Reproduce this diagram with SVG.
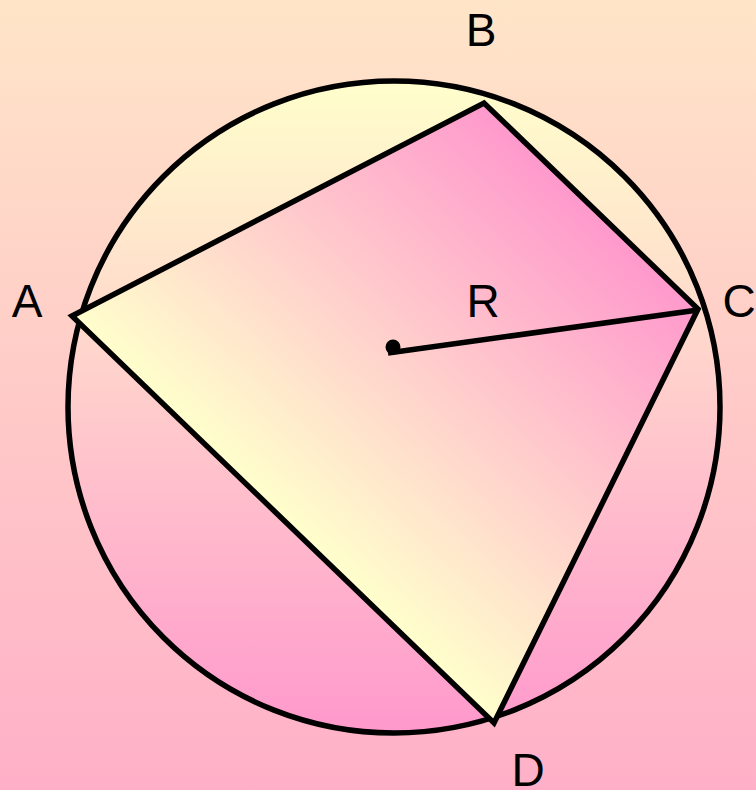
<svg xmlns="http://www.w3.org/2000/svg" width="756" height="790" viewBox="0 0 756 790">
  <defs>
    <linearGradient id="bg" x1="0" y1="0" x2="0" y2="1">
      <stop offset="0" stop-color="#ffe5c8"/>
      <stop offset="1" stop-color="#ffb0c8"/>
    </linearGradient>
    <linearGradient id="circFill" x1="0" y1="0" x2="0" y2="1">
      <stop offset="0" stop-color="#ffffcc"/>
      <stop offset="1" stop-color="#ff99cc"/>
    </linearGradient>
    <linearGradient id="quadFill" gradientUnits="userSpaceOnUse" x1="283" y1="520" x2="588" y2="203">
      <stop offset="0" stop-color="#ffffcc"/>
      <stop offset="1" stop-color="#ff99cc"/>
    </linearGradient>
  </defs>
  <style>
    .edge { stroke: #000; stroke-width: 5.5; }
    .lbl { font-family: "Liberation Sans", Arial, sans-serif; font-size: 46px; fill: #000; }
  </style>
  <rect id="background" x="0" y="0" width="756" height="790" fill="url(#bg)"/>
  <g id="circle">
    <circle class="edge" cx="394" cy="407" r="326" fill="url(#circFill)"/>
  </g>
  <g id="quadrilateral">
    <polygon class="edge" points="72,316 484,103 698,309 494,723" fill="url(#quadFill)" stroke-linejoin="miter"/>
  </g>
  <g id="connectors">
    <line class="edge" x1="388" y1="353" x2="698" y2="310" stroke-linecap="butt"/>
    <circle cx="393" cy="347" r="7.5" fill="#000"/>
  </g>
  <g id="labels">
    <text class="lbl" x="27" y="317" text-anchor="middle">A</text>
    <text class="lbl" x="481" y="46" text-anchor="middle">B</text>
    <text class="lbl" x="739" y="317" text-anchor="middle">C</text>
    <text class="lbl" x="528" y="786" text-anchor="middle">D</text>
    <text class="lbl" x="483" y="317" text-anchor="middle">R</text>
  </g>
</svg>
